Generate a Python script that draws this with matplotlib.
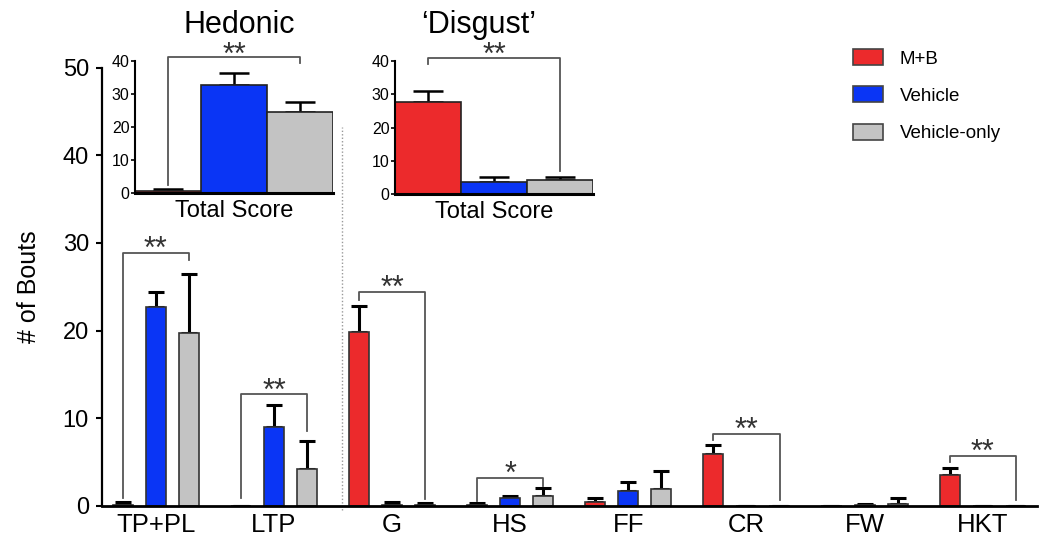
import matplotlib
matplotlib.use("Agg")
from matplotlib import pyplot as plt
from matplotlib.patches import Patch
import numpy as np

plt.rcParams['font.family'] = ['Liberation Sans', 'DejaVu Sans']

# --- data ---
categories = ["TP+PL", "LTP", "G", "HS", "FF", "CR", "FW", "HKT"]
groups = ["M+B", "Vehicle", "Vehicle-only"]
colors = ["#EC2A2C", "#0A35F5", "#C3C3C3"]

mb_mean = [0.05, 0.0, 19.8, 0.1, 0.4, 5.9, 0.0, 3.55]
mb_err = [0.35, 0.0, 3.0, 0.2, 0.5, 1.05, 0.0, 0.75]
veh_mean = [22.7, 9.0, 0.1, 0.9, 1.65, 0.0, 0.1, 0.0]
veh_err = [1.7, 2.55, 0.35, 0.25, 1.05, 0.0, 0.15, 0.0]
vo_mean = [19.7, 4.2, 0.1, 1.1, 1.9, 0.0, 0.2, 0.0]
vo_err = [6.8, 3.2, 0.2, 0.95, 2.1, 0.0, 0.65, 0.0]

# inset totals
hed_mean = [0.5, 32.7, 24.6]
hed_err = [0.7, 3.7, 3.1]
dis_mean = [27.7, 3.7, 4.2]
dis_err = [3.4, 1.3, 1.0]

# brackets: (group, left bar, right bar, bracket y, left end, right end, label)
brackets = [
    (0, 0, 2, 28.9, 0.9, 28.1, "**"),
    (1, 0, 2, 12.7, 0.9, 8.5, "**"),
    (2, 0, 2, 24.4, 23.5, 0.8, "**"),
    (3, 0, 2, 3.2, 0.5, 2.3, "*"),
    (5, 0, 2, 8.2, 7.45, 0.6, "**"),
    (7, 0, 2, 5.7, 5.0, 0.6, "**"),
]
hed_bracket = (41.2, 2.4, 39.4, "**")
dis_bracket = (41.0, 39.0, 7.0, "**")

means = [mb_mean, veh_mean, vo_mean]
errs = [mb_err, veh_err, vo_err]

fig = plt.figure(figsize=(10.5, 5.45), dpi=100)
ax = fig.add_axes([101.5 / 1050, 39.3 / 545, 935.5 / 1050, 438 / 545])

x = np.arange(len(categories))
off = 0.28
w = 0.17
for i in range(3):
    xs = x + (i - 1) * off
    ax.bar(xs, means[i], w, color=colors[i], edgecolor="#333333", linewidth=1.2, zorder=2)
    ax.errorbar(xs, means[i], yerr=[np.zeros(len(x)), errs[i]], fmt="none",
                ecolor="black", elinewidth=2.2, capsize=5.5, capthick=2.2, zorder=1)

ax.set_xlim(-0.46, 7.46)
ax.set_ylim(0, 50)
ax.set_yticks([0, 10, 20, 30, 40, 50])
ax.set_xticks(x)
ax.set_xticklabels(categories, fontsize=18.5)
ax.tick_params(axis="x", length=0, pad=5)
ax.tick_params(axis="y", labelsize=17, width=1.5, length=4, pad=5)
ax.set_ylabel("# of Bouts", fontsize=18, labelpad=16)
for s in ["top", "right"]:
    ax.spines[s].set_visible(False)
ax.spines["left"].set_linewidth(1.6)
ax.spines["bottom"].set_linewidth(2.0)

for g, a, b, yb, yl, yr, lab in brackets:
    xa = g + (a - 1) * off
    xb = g + (b - 1) * off
    ax.plot([xa, xa, xb, xb], [yl, yb, yb, yr], color="#555555", lw=1.3, zorder=3)
    ax.text((xa + xb) / 2, yb - 0.6, lab, ha="center", va="baseline",
            fontsize=22, color="#333333")

# divider between hedonic and disgust
ax.plot([1.58, 1.58], [-0.5, 43.2], ls=(0, (1, 1.5)), color="#999999", lw=1,
        clip_on=False, zorder=0)


def inset(rect, vals, err, bracket):
    ia = fig.add_axes(rect)
    xi = np.arange(3)
    ia.bar(xi, vals, 1.0, color=colors, edgecolor="#222222", linewidth=1.2, zorder=2)
    ia.errorbar(xi, vals, yerr=[np.zeros(3), err], fmt="none", ecolor="black",
                elinewidth=1.8, capsize=11, capthick=1.8, zorder=1)
    ia.set_xlim(-0.5, 2.5)
    ia.set_ylim(0, 40)
    ia.set_yticks([0, 10, 20, 30, 40])
    ia.set_xticks([])
    ia.tick_params(axis="y", labelsize=11.5, length=3, width=1.2, pad=1)
    ia.set_xlabel("Total Score", fontsize=17, labelpad=5)
    for s in ["top", "right"]:
        ia.spines[s].set_visible(False)
    ia.spines["left"].set_linewidth(1.5)
    ia.spines["bottom"].set_linewidth(2.2)
    ia.patch.set_alpha(0)
    yb, yl, yr, lab = bracket
    ia.plot([0, 0, 2, 2], [yl, yb, yb, yr], color="#555555", lw=1.3,
            clip_on=False, zorder=3)
    ia.text(1, yb - 2.0, lab, ha="center", va="baseline", fontsize=22,
            color="#333333")
    return ia


inset([135 / 1050, 352 / 545, 198 / 1050, 132 / 545], hed_mean, hed_err, hed_bracket)
inset([395 / 1050, 351 / 545, 198 / 1050, 133 / 545], dis_mean, dis_err, dis_bracket)

fig.text(239 / 1050, 1 - 33 / 545, "Hedonic", ha="center", va="baseline", fontsize=22)
fig.text(479 / 1050, 1 - 33 / 545, "\u2018Disgust\u2019", ha="center", va="baseline", fontsize=22)

handles = [Patch(facecolor=c, edgecolor="#444444", linewidth=1.2) for c in colors]
fig.legend(handles, groups, loc="upper left", bbox_to_anchor=(853 / 1050, 1 - 49 / 545),
           frameon=False, fontsize=13.5, handlelength=1.6, handleheight=0.95,
           labelspacing=1.0, handletextpad=0.9, borderpad=0, borderaxespad=0)

fig.savefig("out.png", dpi=100)
